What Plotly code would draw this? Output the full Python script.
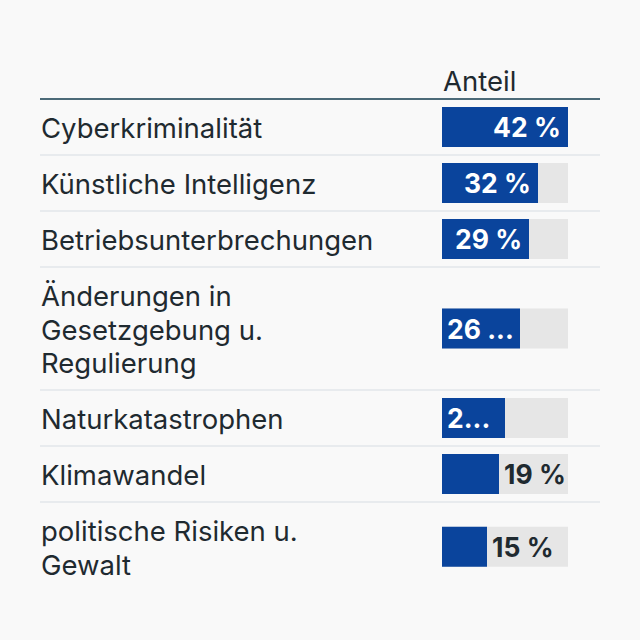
import plotly.graph_objects as go

categories = [
    ["Cyberkriminalität"],
    ["Künstliche Intelligenz"],
    ["Betriebsunterbrechungen"],
    ["Änderungen in", "Gesetzgebung u.", "Regulierung"],
    ["Naturkatastrophen"],
    ["Klimawandel"],
    ["politische Risiken u.", "Gewalt"],
]
values = [42, 32, 29, 26, 21, 19, 15]
value_labels = ["42 %", "32 %", "29 %", "26 ...", "2...", "19 %", "15 %"]
label_mode = ["inside_end", "inside_end", "inside_end", "inside_start", "inside_start", "outside", "outside"]
header = "Anteil"

W = H = 640
FONT = "Inter"
BLUE = "#0a449c"
TRACK = "#e6e6e6"
TXT = "#1f2a30"
LINE_H = 33.5
PAD = 22.5
top = 99
LBL = 27.5
VAL = 26.5

# row geometry
centers, bounds = [], []
y = top
for lines in categories:
    h = PAD + LINE_H * len(lines)
    centers.append(y + h / 2)
    y += h
    bounds.append(y)

vmax = max(values)
fig = go.Figure()
fig.add_trace(go.Bar(y=centers, x=[vmax] * len(values), orientation="h", width=40,
                     marker=dict(color=TRACK, line_width=0), hoverinfo="skip"))
fig.add_trace(go.Bar(y=centers, x=values, orientation="h", width=40,
                     marker=dict(color=BLUE, line_width=0), hoverinfo="skip"))

ann = []
ann.append(dict(text=header, x=441 / W, xref="paper", xanchor="left", y=81, yref="y",
                yanchor="middle", showarrow=False, font=dict(family=FONT, size=LBL, color=TXT)))
for c, lines in zip(centers, categories):
    n = len(lines)
    for i, t in enumerate(lines):
        ann.append(dict(text=t, x=39 / W, xref="paper", xanchor="left",
                        y=c + 1 + (i - (n - 1) / 2) * LINE_H, yref="y", yanchor="middle",
                        showarrow=False, font=dict(family=FONT, size=LBL, color=TXT)))
for c, v, lab, mode in zip(centers, values, value_labels, label_mode):
    if mode == "inside_end":
        ann.append(dict(text=f"<b>{lab}</b>", x=v, xref="x", xanchor="right", xshift=-5,
                        y=c, yref="y", yanchor="middle", showarrow=False,
                        font=dict(family=FONT, size=VAL, color="white")))
    elif mode == "inside_start":
        ann.append(dict(text=f"<b>{lab}</b>", x=0, xref="x", xanchor="left", xshift=3,
                        y=c, yref="y", yanchor="middle", showarrow=False,
                        font=dict(family=FONT, size=VAL, color="white")))
    else:
        ann.append(dict(text=f"<b>{lab}</b>", x=v, xref="x", xanchor="left", xshift=3,
                        y=c, yref="y", yanchor="middle", showarrow=False,
                        font=dict(family=FONT, size=VAL, color=TXT)))

shapes = [dict(type="line", xref="paper", yref="y", x0=40 / W, x1=600 / W, y0=top, y1=top,
               line=dict(color="#4c6a78", width=2))]
for b in bounds[:-1]:
    shapes.append(dict(type="line", xref="paper", yref="y", x0=40 / W, x1=600 / W, y0=b, y1=b,
                       line=dict(color="#e2e6ea", width=1.5)))

fig.update_layout(
    width=W, height=H, margin=dict(l=0, r=0, t=0, b=0),
    paper_bgcolor="#f9f9f9", plot_bgcolor="rgba(0,0,0,0)",
    barmode="overlay", showlegend=False,
    xaxis=dict(domain=[442 / W, 568 / W], range=[0, vmax], visible=False, fixedrange=True),
    yaxis=dict(domain=[0, 1], range=[H, 0], visible=False, fixedrange=True),
    annotations=ann, shapes=shapes,
)
fig.write_html("out.html", config={"displayModeBar": False},
               post_script="document.body.style.margin='0';document.body.style.overflow='hidden';")
